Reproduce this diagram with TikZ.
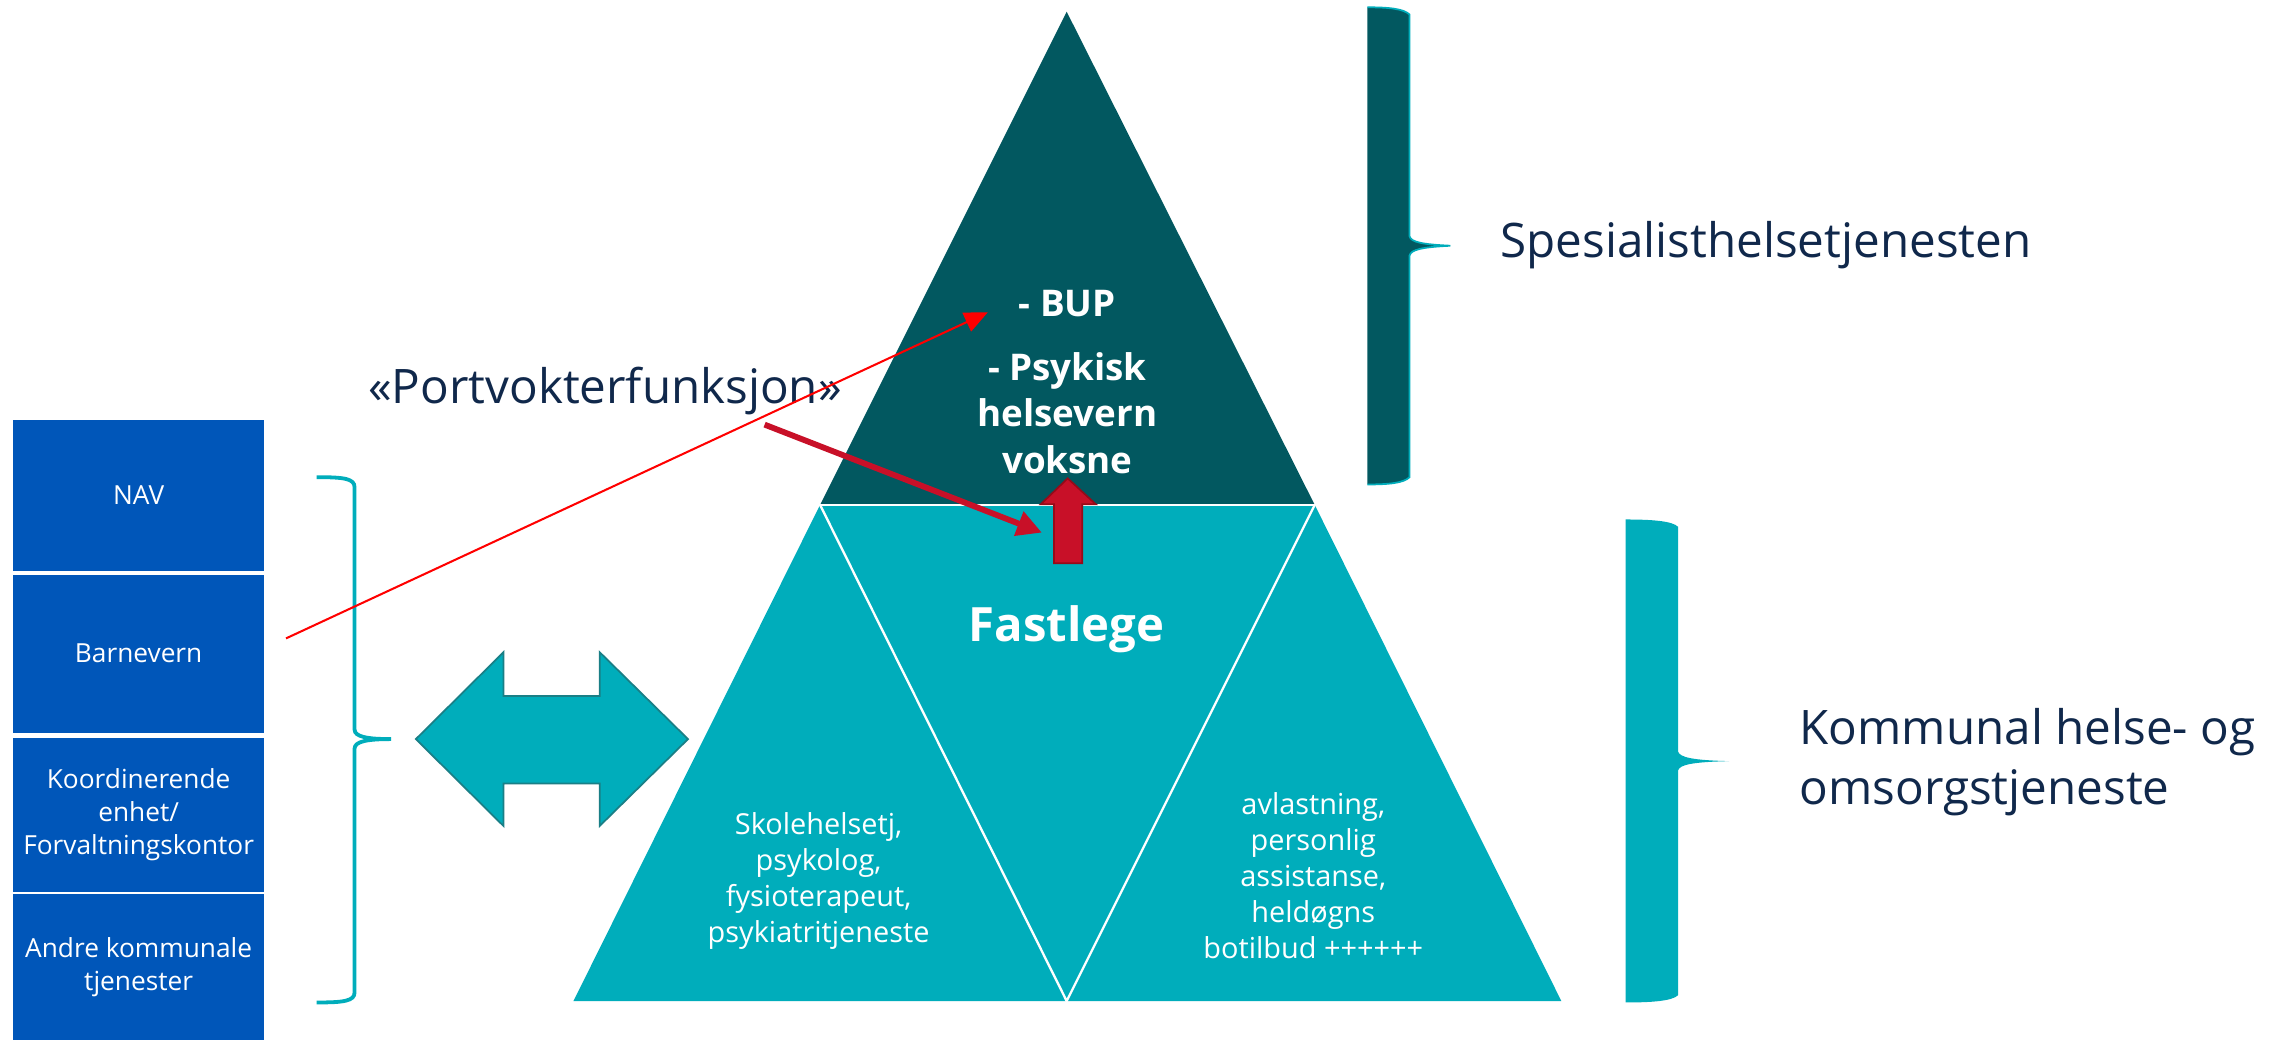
\documentclass[tikz,border=0pt]{standalone}
\usepackage{fontspec}
\setmainfont{Open Sans}
\usetikzlibrary{arrows.meta}
\definecolor{navblue}{RGB}{0,86,185}
\definecolor{darkteal}{RGB}{2,88,96}
\definecolor{lteal}{RGB}{0,173,187}
\definecolor{tealborder}{RGB}{26,127,134}
\definecolor{navytext}{RGB}{16,40,75}
\definecolor{redA}{RGB}{200,16,40}
\definecolor{redB}{RGB}{150,10,25}
\tikzset{
  box/.style={fill=navblue, text=white, inner sep=0pt, outer sep=0pt, minimum width=86pt, align=center, font=\fontsize{9}{11.2}\selectfont},
  bigtext/.style={text=navytext, inner sep=0pt, align=left, font=\fontsize{16.3}{20.5}\selectfont},
  pyrtext/.style={text=white, inner sep=0pt, align=center, font=\bfseries\fontsize{12.6}{16}\selectfont},
  smalltext/.style={text=white, inner sep=0pt, align=center, font=\fontsize{9.9}{12.35}\selectfont},
  thinred/.style={draw=red, line width=0.7pt, -{Triangle[length=8pt,width=7pt]}},
  thickred/.style={draw=redA, line width=2pt, -{Triangle[length=8.5pt,width=8.5pt]}},
  bracel/.style={draw=lteal, line width=1.3pt},
}
\newcommand{\boxlines}[2]{\raisebox{#1}{\begin{tabular}{@{}c@{}}#2\end{tabular}}}
\begin{document}
\begin{tikzpicture}[x=0.5pt,y=-0.5pt]
\useasboundingbox (0,0) rectangle (1568,713);
\fill[white] (0,0) rectangle (1568,713);

% left boxes
\node[box, minimum height=51.5pt] (nav) at (95,339.5) {NAV};
\node[box, minimum height=54pt] (barn) at (95,448) {Barnevern};
\node[box, minimum height=52.5pt] (koord) at (95,558.5) {\boxlines{-2.2pt}{Koordinerende\\enhet/\\Forvaltningskontor}};
\node[box, minimum height=50pt] (andre) at (95,663) {\boxlines{-1.3pt}{Andre kommunale\\tjenester}};

% left brace
\draw[bracel] (217,327) .. controls (236,327) and (243,328) .. (243,334)
  -- (243,500) .. controls (243,505) and (252,506.5) .. (268,506.5)
  .. controls (252,506.5) and (243,508) .. (243,513)
  -- (243,680) .. controls (243,686) and (236,687) .. (217,687);

% double arrow
\filldraw[fill=lteal, draw=tealborder, line width=0.6pt]
  (285,506.5) -- (345,447) -- (345,477) -- (411,477) -- (411,447)
  -- (471.5,506.5) -- (411,566) -- (411,537) -- (345,537) -- (345,566) -- cycle;

% pyramid
\fill[darkteal] (731,8) -- (562,346) -- (901,346) -- cycle;
\fill[lteal] (562,346) -- (901,346) -- (1070,686) -- (393,686) -- cycle;
\draw[white, line width=0.8pt] (562,346) -- (901,346);
\draw[white, line width=0.8pt] (562,346) -- (731,686) -- (901,346);

% pyramid texts
\node[pyrtext] (bup) at (731.5,208) {- BUP};
\node[pyrtext] (psyk) at (731.5,283) {- Psykisk\\helsevern\\voksne};
\node[text=white, inner sep=0pt, font=\bfseries\fontsize{16.2}{20}\selectfont] (fast) at (731,431) {Fastlege};
\node[smalltext] (skole) at (561,603.5) {Skolehelsetj,\\psykolog,\\fysioterapeut,\\psykiatritjeneste};
\node[smalltext] (avl) at (900,600) {avlastning,\\personlig\\assistanse,\\heldøgns\\botilbud ++++++};

% right braces
\fill[darkteal] (937,5) .. controls (952,5) and (962,6) .. (966,10)
  -- (966,162) .. controls (967,166) and (975,167.5) .. (994,168.4)
  .. controls (975,169.3) and (967,171) .. (966,175)
  -- (966,327) .. controls (962,331) and (952,332) .. (937,332) -- cycle;
\draw[lteal, line width=0.6pt] (937,5) .. controls (952,5) and (962,6) .. (966,10)
  -- (966,162) .. controls (967,166) and (975,167.5) .. (994,168.4)
  .. controls (975,169.3) and (967,171) .. (966,175)
  -- (966,327) .. controls (962,331) and (952,332) .. (937,332);
\fill[lteal] (1114,356) .. controls (1132,356) and (1146,357) .. (1150,361)
  -- (1150,515) .. controls (1151,519) and (1160,521) .. (1185,521.6)
  .. controls (1160,522.2) and (1151,524) .. (1150,528)
  -- (1150,682) .. controls (1146,686) and (1132,687) .. (1114,687) -- cycle;

% right texts
\node[bigtext, anchor=west] (spes) at (1028,168) {Spesialisthelsetjenesten};
\node[bigtext, anchor=west] (komm) at (1233,522.5) {Kommunal helse- og\\omsorgstjeneste};
\node[bigtext, anchor=west] (port) at (252,268) {«Portvokterfunksjon»};

% red arrows
\coordinate (rs) at (196,437.5);
\coordinate (rt) at (677,214);
\draw[thinred] (rs) -- (rt);
\coordinate (ps) at (524,291);
\coordinate (pt) at (714,365);
\draw[thickred] (ps) -- (pt);

% up block arrow
\filldraw[fill=redA, draw=redB, line width=0.6pt]
  (731.7,327.8) -- (751,345.6) -- (741.7,345.6) -- (741.7,386) -- (722.3,386)
  -- (722.3,345.6) -- (713.2,345.6) -- cycle;
\end{tikzpicture}
\end{document}
